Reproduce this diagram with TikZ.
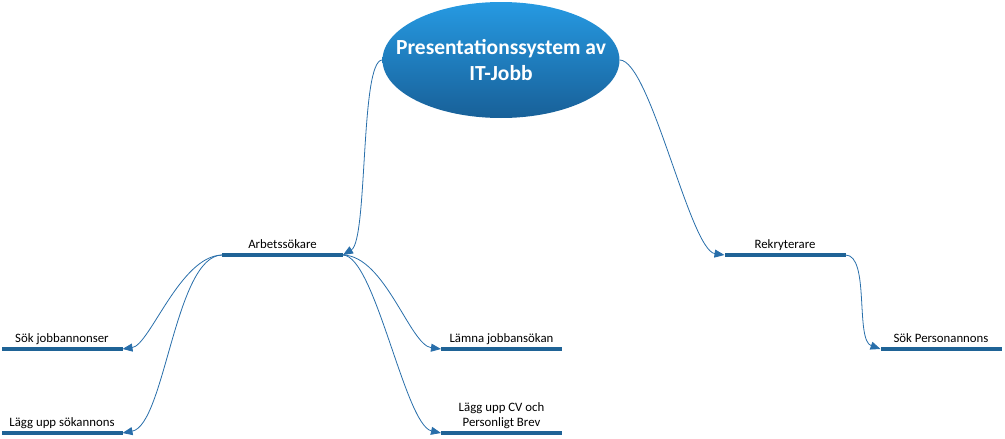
\documentclass[tikz,border=0pt]{standalone}
\usepackage{fontspec}
\setmainfont{Carlito}
\usetikzlibrary{arrows.meta,shapes.geometric}
\definecolor{barc}{RGB}{31,99,150}
\definecolor{linec}{RGB}{40,110,170}
\definecolor{topc}{RGB}{38,154,226}
\definecolor{botc}{RGB}{24,96,152}
\begin{document}
\begin{tikzpicture}[x=1pt,y=-1pt,
  bar/.style={fill=barc,minimum width=121pt,minimum height=4pt,inner sep=0pt,outer sep=0pt},
  lbl/.style={font=\fontsize{12.8}{15.5}\selectfont,text=black,anchor=south,inner sep=1pt,text depth=3pt,align=center},
  conn/.style={draw=linec,line width=0.8pt,-{Triangle[length=10pt,width=8pt]}}]
\useasboundingbox (0,0) rectangle (1005,439);
\node[ellipse,minimum width=237pt,minimum height=116pt,top color=topc,bottom color=botc,inner sep=0pt] (root) at (501,60) {};
\node[text=white,font=\bfseries\fontsize{21.5}{25.5}\selectfont,align=center,inner sep=0pt] (rootT) at (root.center) {Presentationssystem av\\IT-Jobb};
\node[bar] (arb) at (282.5,255) {};
\node[bar] (rek) at (785,255) {};
\node[bar] (sjb) at (62,349) {};
\node[bar] (lus) at (62,433) {};
\node[bar] (lja) at (501.5,349) {};
\node[bar] (lcv) at (501.5,433) {};
\node[bar] (spa) at (941,349) {};
\node[lbl] (arbT) at (arb.north) {Arbetssökare};
\node[lbl] (rekT) at (rek.north) {Rekryterare};
\node[lbl] (sjbT) at (sjb.north) {Sök jobbannonser};
\node[lbl] (lusT) at (lus.north) {Lägg upp sökannons};
\node[lbl] (ljaT) at (lja.north) {Lämna jobbansökan};
\node[lbl] (lcvT) at (lcv.north) {Lägg upp CV och\\Personligt Brev};
\node[lbl] (spaT) at (spa.north) {Sök Personannons};
\draw[conn] (root.west) .. controls (360,60) and (368,240) .. (arb.east);
\draw[conn] (root.east) .. controls (650,60) and (690,250) .. (rek.west);
\draw[conn] (arb.west) .. controls (180,256) and (150,345) .. (sjb.east);
\draw[conn] (arb.west) .. controls (175,256) and (165,425) .. (lus.east);
\draw[conn] (arb.east) .. controls (385,256) and (410,345) .. (lja.west);
\draw[conn] (arb.east) .. controls (375,256) and (405,425) .. (lcv.west);
\draw[conn] (rek.east) .. controls (870,255) and (855,340) .. (spa.west);
\end{tikzpicture}
\end{document}
